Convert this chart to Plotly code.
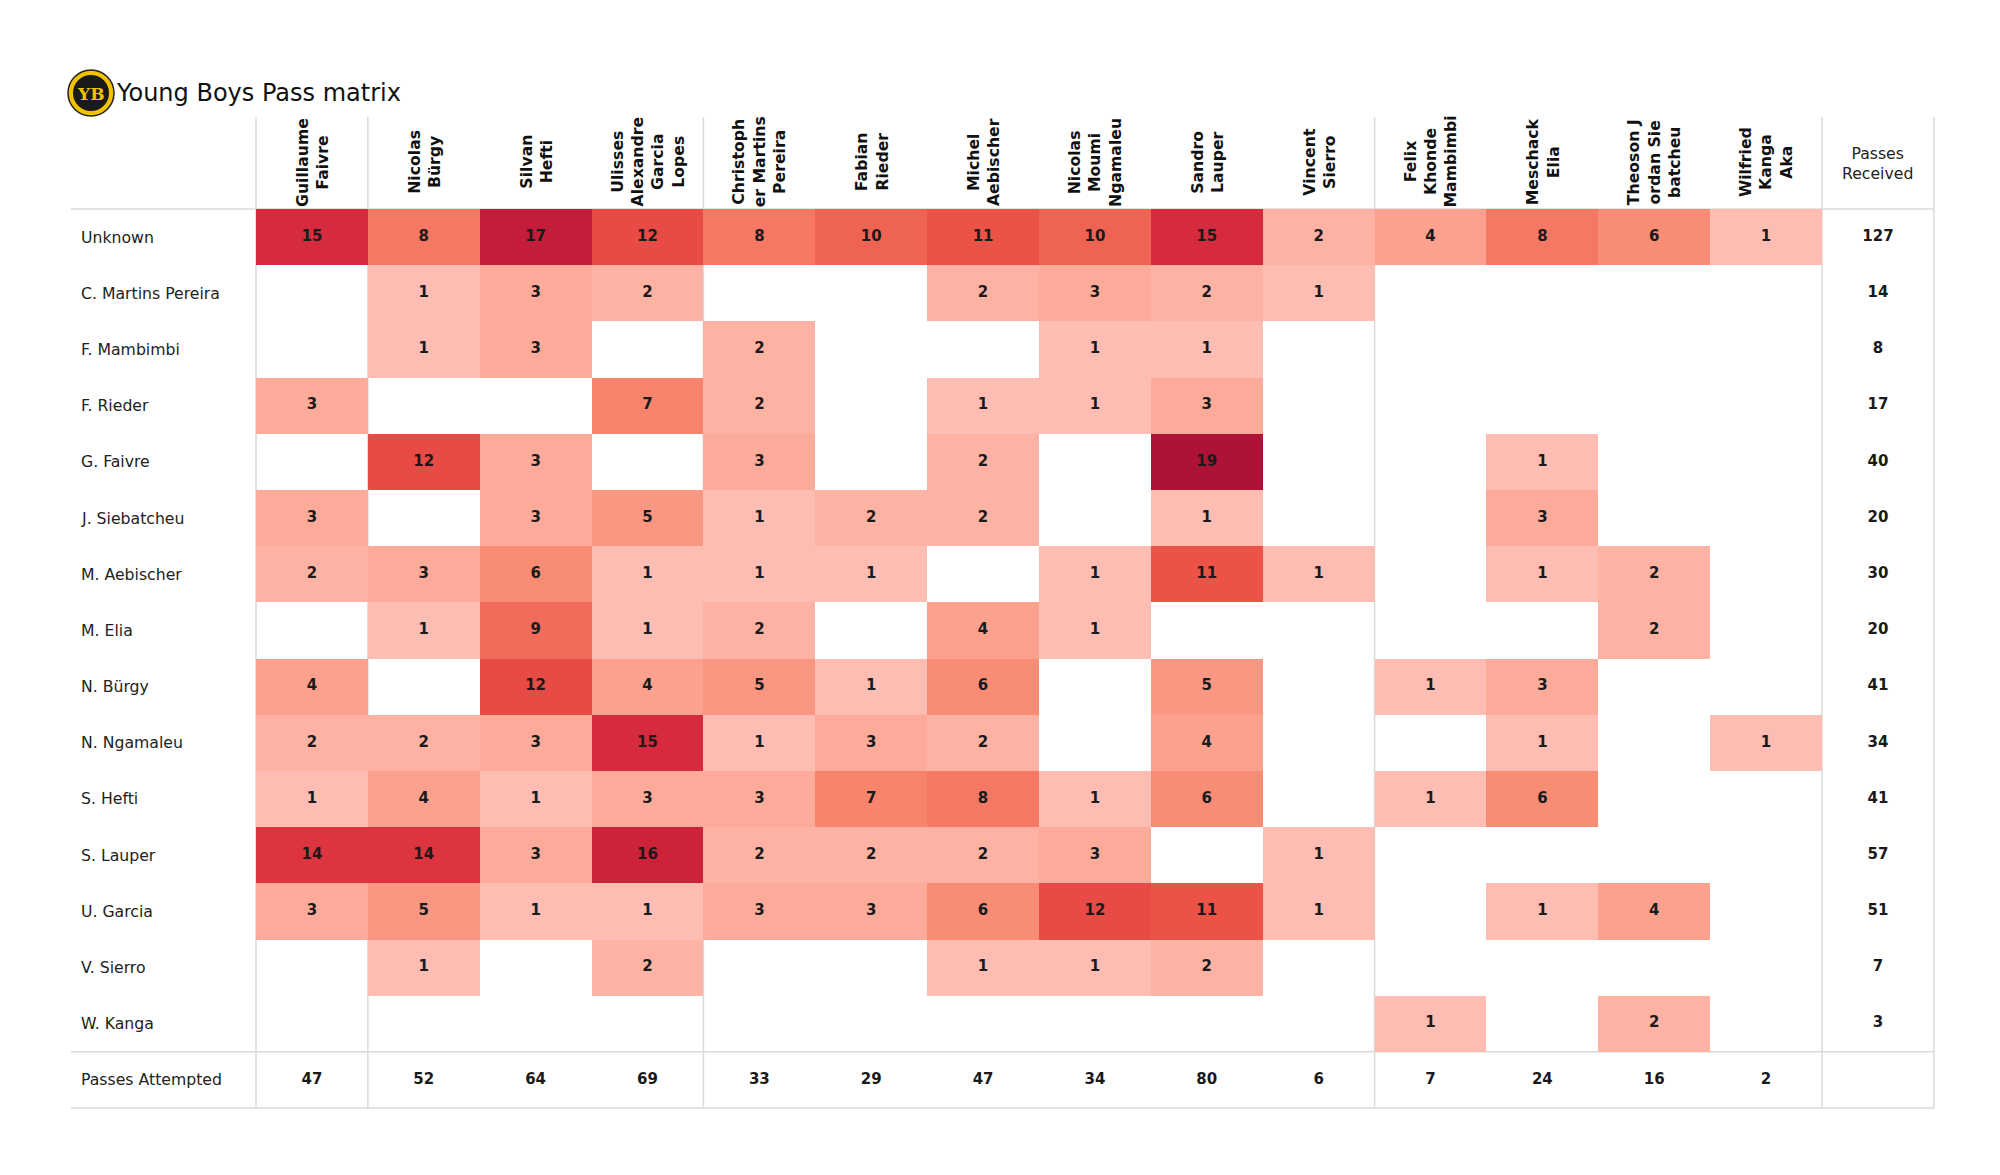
import plotly.graph_objects as go

# ---------------- data ----------------
receivers = ["Guillaume<br>Faivre", "Nicolas<br>Bürgy", "Silvan<br>Hefti",
             "Ulisses<br>Alexandre<br>Garcia<br>Lopes", "Christoph<br>er Martins<br>Pereira",
             "Fabian<br>Rieder", "Michel<br>Aebischer", "Nicolas<br>Moumi<br>Ngamaleu",
             "Sandro<br>Lauper", "Vincent<br>Sierro", "Felix<br>Khonde<br>Mambimbi",
             "Meschack<br>Elia", "Theoson J<br>ordan Sie<br>batcheu", "Wilfried<br>Kanga<br>Aka"]

passers = ["Unknown", "C. Martins Pereira", "F. Mambimbi", "F. Rieder", "G. Faivre",
           "J. Siebatcheu", "M. Aebischer", "M. Elia", "N. Bürgy", "N. Ngamaleu",
           "S. Hefti", "S. Lauper", "U. Garcia", "V. Sierro", "W. Kanga"]

row_unknown  = [15, 8, 17, 12, 8, 10, 11, 10, 15, 2, 4, 8, 6, 1]
row_cmartins = [0, 1, 3, 2, 0, 0, 2, 3, 2, 1, 0, 0, 0, 0]
row_mambimbi = [0, 1, 3, 0, 2, 0, 0, 1, 1, 0, 0, 0, 0, 0]
row_rieder   = [3, 0, 0, 7, 2, 0, 1, 1, 3, 0, 0, 0, 0, 0]
row_faivre   = [0, 12, 3, 0, 3, 0, 2, 0, 19, 0, 0, 1, 0, 0]
row_siebat   = [3, 0, 3, 5, 1, 2, 2, 0, 1, 0, 0, 3, 0, 0]
row_aebisch  = [2, 3, 6, 1, 1, 1, 0, 1, 11, 1, 0, 1, 2, 0]
row_elia     = [0, 1, 9, 1, 2, 0, 4, 1, 0, 0, 0, 0, 2, 0]
row_burgy    = [4, 0, 12, 4, 5, 1, 6, 0, 5, 0, 1, 3, 0, 0]
row_ngamaleu = [2, 2, 3, 15, 1, 3, 2, 0, 4, 0, 0, 1, 0, 1]
row_hefti    = [1, 4, 1, 3, 3, 7, 8, 1, 6, 0, 1, 6, 0, 0]
row_lauper   = [14, 14, 3, 16, 2, 2, 2, 3, 0, 1, 0, 0, 0, 0]
row_garcia   = [3, 5, 1, 1, 3, 3, 6, 12, 11, 1, 0, 1, 4, 0]
row_sierro   = [0, 1, 0, 2, 0, 0, 1, 1, 2, 0, 0, 0, 0, 0]
row_kanga    = [0, 0, 0, 0, 0, 0, 0, 0, 0, 0, 1, 0, 2, 0]

matrix = [row_unknown, row_cmartins, row_mambimbi, row_rieder, row_faivre, row_siebat,
          row_aebisch, row_elia, row_burgy, row_ngamaleu, row_hefti, row_lauper,
          row_garcia, row_sierro, row_kanga]

passes_received = [sum(r) for r in matrix]
passes_attempted = [sum(r[j] for r in matrix) for j in range(len(receivers))]

# ---------------- geometry (pixel layout) ----------------
PAGE_W, PAGE_H = 2000, 1175
OFF = 8                                  # browser body margin
FW, FH = PAGE_W - 2 * OFF, PAGE_H - 2 * OFF
X0, CW = 256, 1566 / 14                  # page px of first column's left edge, column width
Y0, RH = 209, (1108 - 209) / 16          # page px of first row's top, row height
ncol, nrow = len(receivers), len(passers)

def cx(px):
    return (px - X0) / CW

def ry(py):
    return (py - Y0) / RH

def pxf(px):   # page px -> paper x
    return (px - OFF) / FW

def pyf(py):   # page px -> paper y
    return 1 - (py - OFF) / FH

colorscale = [
    [0.000, "#fdbdb2"], [0.056, "#fdb2a4"], [0.111, "#fcaa99"], [0.167, "#fba18e"],
    [0.278, "#f98c75"], [0.333, "#f8846d"], [0.389, "#f57864"], [0.444, "#f26c5c"],
    [0.500, "#ef6352"], [0.556, "#ec5347"], [0.611, "#e84a45"], [0.722, "#dd3540"],
    [0.778, "#d62b3e"], [0.833, "#cc233b"], [0.889, "#c41c3b"], [1.000, "#ae1237"],
]

z = [[v if v > 0 else None for v in r] for r in matrix]
xs = [j + 0.5 for j in range(ncol)]
ys = [i + 0.5 for i in range(nrow)]

fig = go.Figure()
fig.add_trace(go.Heatmap(z=z, x=xs, y=ys, colorscale=colorscale, zmin=1, zmax=19,
                         showscale=False, hoverinfo="skip"))

# cell values
tx, ty, tt = [], [], []
for i, r in enumerate(matrix):
    for j, v in enumerate(r):
        if v > 0:
            tx.append(j + 0.5); ty.append(i + 0.5); tt.append(str(v))
for i, v in enumerate(passes_received):
    tx.append(ncol + 0.5); ty.append(i + 0.5); tt.append(str(v))
for j, v in enumerate(passes_attempted):
    tx.append(j + 0.5); ty.append(nrow + 0.5); tt.append(str(v))

fig.add_trace(go.Scatter(x=tx, y=ty, text=tt, mode="text", hoverinfo="skip",
                         textfont=dict(family="DejaVu Sans", size=15, color="#1a1a1a",
                                       weight="bold"),
                         showlegend=False))

ann = []
for i, name in enumerate(passers + ["Passes Attempted"]):
    ann.append(dict(x=cx(79), y=i + 0.5, text=name, xanchor="left", yanchor="middle",
                    showarrow=False, font=dict(family="DejaVu Sans", size=15.7, color="#222222")))
for j, name in enumerate(receivers):
    ann.append(dict(x=j + 0.5, y=ry(162), text="<b>" + name + "</b>", textangle=-90,
                    xanchor="center", yanchor="middle", align="center", showarrow=False,
                    font=dict(family="DejaVu Sans", size=15.7, color="#111111")))
ann.append(dict(x=ncol + 0.5, y=ry(163), text="Passes<br>Received", xanchor="center",
                yanchor="middle", align="center", showarrow=False,
                font=dict(family="DejaVu Sans", size=15.7, color="#222222")))
ann.append(dict(x=pxf(114), y=pyf(93), xref="paper", yref="paper",
                text="Young Boys Pass matrix", xanchor="left", yanchor="middle",
                showarrow=False, font=dict(family="DejaVu Sans", size=24, color="#111111")))
ann.append(dict(x=pxf(91), y=pyf(94), xref="paper", yref="paper", text="<b>YB</b>",
                xanchor="center", yanchor="middle", showarrow=False,
                font=dict(family="DejaVu Serif", size=17, color="#f2c200")))

shapes = []
grid = dict(color="#dadada", width=1.5)
for yy in [0, nrow, nrow + 1]:
    shapes.append(dict(type="line", xref="x", yref="y", x0=cx(71), x1=ncol + 1, y0=yy, y1=yy,
                       line=grid, layer="below"))
for xx in [0, 1, 4, 10, ncol, ncol + 1]:
    shapes.append(dict(type="line", xref="x", yref="y", x0=xx, x1=xx, y0=ry(117), y1=nrow + 1,
                       line=grid, layer="below"))
shapes.append(dict(type="circle", xref="paper", yref="paper", x0=pxf(68), x1=pxf(114),
                   y0=pyf(116), y1=pyf(70), fillcolor="#f2c200",
                   line=dict(color="#222222", width=1.5)))
shapes.append(dict(type="circle", xref="paper", yref="paper", x0=pxf(73), x1=pxf(109),
                   y0=pyf(111), y1=pyf(75), fillcolor="#1a1a1a",
                   line=dict(color="#1a1a1a", width=0)))

fig.update_layout(
    width=FW, height=FH, margin=dict(l=0, r=0, t=0, b=0),
    paper_bgcolor="white", plot_bgcolor="white",
    xaxis=dict(range=[cx(OFF), cx(OFF + FW)], visible=False, fixedrange=True),
    yaxis=dict(range=[ry(OFF + FH), ry(OFF)], visible=False, fixedrange=True),
    annotations=ann, shapes=shapes, showlegend=False,
)

fig.write_html("out.html")
